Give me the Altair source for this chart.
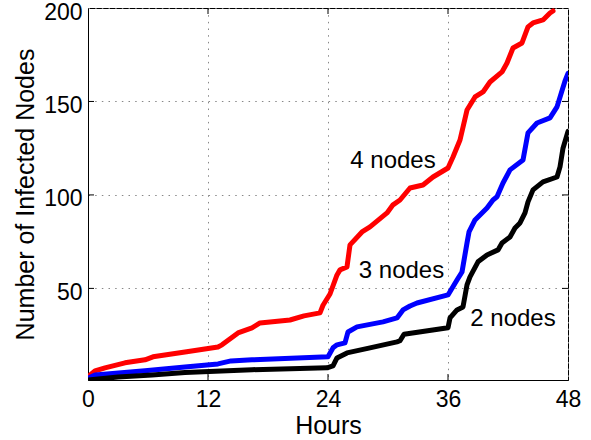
import altair as alt
import pandas as pd

# ---- data ----
red_hours = [0, 0.7, 1.7, 3.7, 5.7, 6.5, 9.7, 13.0, 13.4, 15.0, 16.4, 17.2, 20.2, 21.6, 23.2, 23.5,
             24.2, 24.9, 25.2, 25.9, 26.2, 27.4, 28.2, 29.9, 30.5, 31.2, 32.2, 33.5, 34.5, 36.0,
             36.5, 37.2, 37.9, 38.7, 39.5, 40.2, 41.4, 41.9, 42.5, 43.4, 44.0, 44.5, 45.5, 46.2, 46.5]
red_values = [2.7, 5.9, 7.5, 10.2, 11.8, 13.4, 16.0, 18.7, 19.8, 26.2, 28.9, 31.5, 33.1, 35.3, 36.9, 41.0,
              47.0, 57.2, 59.9, 61.5, 73.3, 80.2, 82.9, 90.4, 94.7, 97.3, 103.7, 105.3, 109.6, 114.4,
              120.3, 129.4, 145.4, 152.4, 155.1, 160.4, 165.8, 170.6, 178.6, 181.3, 189.9, 192.0, 193.6, 197.3, 198.4]

blue_hours = [0, 0.7, 5.7, 9.7, 13.0, 14.3, 16.4, 24.0, 24.5, 24.9, 25.7, 26.0, 26.9, 29.5, 30.9,
              31.5, 32.2, 32.9, 36.0, 36.9, 37.4, 37.9, 38.1, 38.7, 39.9, 40.5, 40.9, 41.5, 42.2,
              43.5, 44.0, 44.9, 46.2, 46.9, 47.7, 48.0]
blue_values = [2.0, 3.7, 5.9, 8.0, 9.6, 11.2, 11.8, 13.4, 18.2, 19.8, 20.9, 26.7, 29.4, 32.1, 34.2,
               38.5, 40.6, 42.2, 46.5, 54.5, 58.8, 74.3, 80.2, 86.6, 93.0, 97.3, 99.0, 106.4, 113.4,
               118.7, 133.2, 138.5, 141.2, 147.1, 161.0, 165.0]

black_hours = [0, 3.0, 6.4, 9.7, 16.4, 23.9, 24.5, 24.9, 25.9, 28.2, 30.9, 31.2, 31.6, 36.0, 36.2,
               36.9, 37.5, 37.9, 38.2, 39.0, 39.9, 41.0, 41.4, 42.2, 42.7, 43.2, 43.7, 44.0, 44.5,
               45.5, 46.9, 47.2, 47.5, 48.0]
black_values = [1.0, 2.6, 3.7, 5.0, 6.5, 7.5, 8.5, 12.8, 15.5, 18.2, 21.4, 22.0, 25.5, 29.0, 34.2,
                38.5, 40.1, 51.9, 56.2, 64.2, 67.9, 70.6, 74.3, 77.5, 82.3, 85.0, 90.4, 96.3, 102.7,
                107.0, 109.6, 115.0, 125.0, 134.0]

series_names = ["4 nodes", "3 nodes", "2 nodes"]
series_colors = ["#ff0000", "#0000ff", "#000000"]

label_text = ["4 nodes", "3 nodes", "2 nodes"]
label_hours = [30.5, 31.35, 42.5]
label_values = [114.4, 55.6, 30.0]

x_ticks = [0, 12, 24, 36, 48]
y_ticks = [50, 100, 150, 200]
x_inner = [12, 24, 36]
y_inner = [50, 100, 150]

# ---- tables ----
rows = []
for name, hs, vs in [("4 nodes", red_hours, red_values),
                     ("3 nodes", blue_hours, blue_values),
                     ("2 nodes", black_hours, black_values)]:
    for h, v in zip(hs, vs):
        rows.append({"series": name, "hours": h, "value": v})
df = pd.DataFrame(rows)
labels_df = pd.DataFrame({"hours": label_hours, "value": label_values, "text": label_text})
xt_df = pd.DataFrame({"hours": x_inner})
yt_df = pd.DataFrame({"value": y_inner})

FONT = "Liberation Sans"
x_scale = alt.Scale(domain=[0, 48], nice=False, zero=False)
y_scale = alt.Scale(domain=[1, 200], nice=False, zero=False)

x_axis = alt.Axis(values=x_ticks, title="Hours", grid=True, ticks=False, tickSize=0,
                  labelPadding=26.5, labelBaseline="alphabetic", labelFlush=False,
                  titleX=240, titleY=53.5, titleBaseline="alphabetic", titleAlign="center")
y_axis = alt.Axis(values=y_ticks, title="Number of Infected Nodes", grid=True, ticks=False, tickSize=0,
                  labelPadding=6, labelBaseline="middle", labelOffset=4, labelFlush=False,
                  titleX=-55, titleY=186, titleAngle=270, titleBaseline="alphabetic", titleAlign="center")

X = alt.X("hours:Q", scale=x_scale, axis=x_axis)
Y = alt.Y("value:Q", scale=y_scale, axis=y_axis)

lines = alt.Chart(df).mark_line(strokeWidth=5, clip=True, strokeJoin="round", strokeCap="round").encode(
    x=X, y=Y,
    color=alt.Color("series:N", scale=alt.Scale(domain=series_names, range=series_colors), legend=None),
)

texts = alt.Chart(labels_df).mark_text(font=FONT, fontSize=24, align="center", baseline="alphabetic",
                                       color="black").encode(x=X, y=Y, text="text:N")

tick_bottom = alt.Chart(xt_df).mark_rule(color="black", strokeWidth=1).encode(
    x=X, y=alt.value(372), y2=alt.value(366))
tick_top = alt.Chart(xt_df).mark_rule(color="black", strokeWidth=1).encode(
    x=X, y=alt.value(0), y2=alt.value(6))
tick_left = alt.Chart(yt_df).mark_rule(color="black", strokeWidth=1).encode(
    y=Y, x=alt.value(0), x2=alt.value(6))
tick_right = alt.Chart(yt_df).mark_rule(color="black", strokeWidth=1).encode(
    y=Y, x=alt.value(480), x2=alt.value(474))

chart = alt.layer(lines, tick_bottom, tick_top, tick_left, tick_right, texts).properties(
    width=480, height=372,
    autosize=alt.AutoSizeParams(type="none"),
    padding={"left": 88, "top": 8, "right": 23, "bottom": 60},
    background="white",
).configure_view(
    stroke="black", strokeWidth=1
).configure_axis(
    domainColor="black", domainWidth=1,
    gridColor="#888888", gridDash=[1.5, 5.17], gridWidth=1, gridOpacity=1,
    labelFont=FONT, labelFontSize=23, labelColor="black",
    titleFont=FONT, titleFontSize=25, titleFontWeight="normal", titleColor="black",
)

chart.save("out.html", embed_options={"renderer": "svg", "actions": False})
